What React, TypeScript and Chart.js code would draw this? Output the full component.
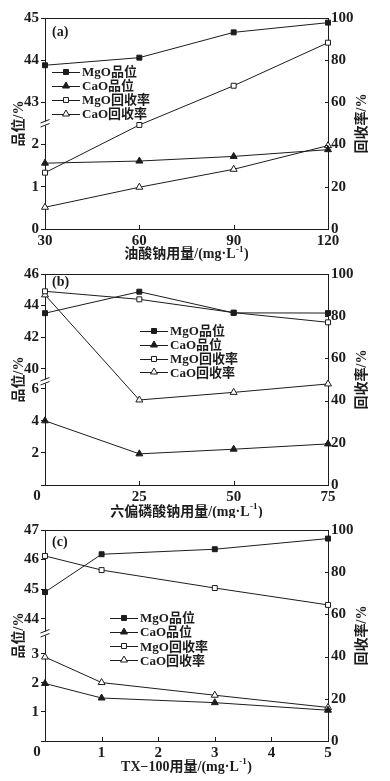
import React, { useEffect, useRef } from 'react';
import { Chart, registerables } from 'chart.js';

Chart.register(...registerables);

// ---------- data ----------
const SERIES_NAMES = ['MgO品位', 'CaO品位', 'MgO回收率', 'CaO回收率'];

// (a) 油酸钠用量
const A_X = [30, 60, 90, 120];
const A_MGO_GRADE = [43.88, 44.06, 44.66, 44.89];
const A_CAO_GRADE = [1.56, 1.61, 1.72, 1.88];
const A_MGO_REC = [26.7, 49.3, 67.9, 88.3];
const A_CAO_REC = [10.3, 19.8, 28.3, 39.5];

// (b) 六偏磷酸钠用量
const B_X = [0, 25, 50, 75];
const B_MGO_GRADE = [43.52, 44.88, 43.54, 43.53];
const B_CAO_GRADE = [4.0, 1.94, 2.23, 2.56];
const B_MGO_REC = [91.8, 88.0, 81.7, 77.1];
const B_CAO_REC = [90.1, 40.3, 43.9, 47.9];

// (c) TX-100用量
const C_X = [0, 1, 3, 5];
const C_MGO_GRADE = [44.9, 46.18, 46.35, 46.71];
const C_CAO_GRADE = [1.98, 1.48, 1.32, 1.06];
const C_MGO_REC = [87.7, 81.0, 72.5, 64.5];
const C_CAO_REC = [39.8, 27.7, 21.7, 15.9];

const LEFT_TITLE = '品位/%';
const RIGHT_TITLE = '回收率/%';

// ---------- style ----------
const FONT = "'Liberation Serif', 'Noto Sans CJK SC', serif";
const INK = '#1c1c1c';

type PanelCfg = {
  key: string;
  label: string;
  xTitle: [string, string];
  x: number[];
  series: number[][];
  xMin: number; xMax: number; xStep: number;
  up: [number, number, number];
  low: [number, number, number];
  upW: number; lowW: number;
  hideLowZero: boolean;
  cornerZero: boolean;
  top: number; height: number;
  padTop: number; xHeight: number;
  legend: { x: number; y: number; dy: number };
  labelPos: { x: number; y: number };
  titleOffset: number;
};

const PANELS: PanelCfg[] = [
  {
    key: 'a', label: '(a)', xTitle: ['油酸钠用量/(mg·L', ')'],
    x: A_X, series: [A_MGO_GRADE, A_CAO_GRADE, A_MGO_REC, A_CAO_REC],
    xMin: 30, xMax: 120, xStep: 30,
    up: [42.5, 45, 1], low: [0, 2.5, 1], upW: 105.5, lowW: 105.5,
    hideLowZero: false, cornerZero: false,
    top: 0, height: 264, padTop: 18, xHeight: 35,
    legend: { x: 52, y: 72, dy: 14 }, labelPos: { x: 52, y: 32 }, titleOffset: 25.5,
  },
  {
    key: 'b', label: '(b)', xTitle: ['六偏磷酸钠用量/(mg·L', ')'],
    x: B_X, series: [B_MGO_GRADE, B_CAO_GRADE, B_MGO_REC, B_CAO_REC],
    xMin: 0, xMax: 75, xStep: 25,
    up: [39.2, 46, 2], low: [0, 6.45, 2], upW: 108, lowW: 104,
    hideLowZero: true, cornerZero: true,
    top: 262, height: 256, padTop: 11, xHeight: 33,
    legend: { x: 140, y: 69, dy: 13.8 }, labelPos: { x: 52, y: 20 }, titleOffset: 27,
  },
  {
    key: 'c', label: '(c)', xTitle: ['TX−100用量/(mg·L', ')'],
    x: C_X, series: [C_MGO_GRADE, C_CAO_GRADE, C_MGO_REC, C_CAO_REC],
    xMin: 0, xMax: 5, xStep: 1,
    up: [43.5, 47, 1], low: [0, 3.7, 1], upW: 104, lowW: 108,
    hideLowZero: true, cornerZero: true,
    top: 518, height: 263, padTop: 11, xHeight: 40,
    legend: { x: 110, y: 100, dy: 14.1 }, labelPos: { x: 52, y: 24 }, titleOffset: 26,
  },
];

const MARKERS = [
  { style: 'rect', radius: 3.5, fill: INK, axis: 'yUp' },
  { style: 'triangle', radius: 4, fill: INK, axis: 'yLow' },
  { style: 'rect', radius: 3.5, fill: '#ffffff', axis: 'yR' },
  { style: 'triangle', radius: 4, fill: '#ffffff', axis: 'yR' },
];

function drawMarker(ctx: CanvasRenderingContext2D, style: string, r: number, fill: string, x: number, y: number) {
  ctx.beginPath();
  if (style === 'rect') {
    const s = Math.SQRT1_2 * r;
    ctx.rect(x - s, y - s, 2 * s, 2 * s);
  } else {
    const a = (2 * Math.PI) / 3;
    ctx.moveTo(x, y - r);
    ctx.lineTo(x + Math.sin(a) * r, y - Math.cos(a) * r);
    ctx.lineTo(x + Math.sin(2 * a) * r, y - Math.cos(2 * a) * r);
    ctx.closePath();
  }
  ctx.fillStyle = fill;
  ctx.fill();
  ctx.strokeStyle = INK;
  ctx.lineWidth = 1;
  ctx.stroke();
}

function overlayPlugin(p: PanelCfg) {
  return {
    id: 'overlay_' + p.key,
    afterDraw(chart: any) {
      const { ctx, chartArea: ca, scales } = chart;
      const h = (v: number) => Math.round(v) + 0.5;
      ctx.save();
      ctx.strokeStyle = INK;
      ctx.lineWidth = 1;
      // top frame
      ctx.beginPath();
      ctx.moveTo(ca.left, h(ca.top));
      ctx.lineTo(ca.right, h(ca.top));
      // inward ticks on x and right axes
      scales.x.ticks.forEach((t: any) => {
        const xx = h(scales.x.getPixelForValue(t.value));
        ctx.moveTo(xx, ca.bottom);
        ctx.lineTo(xx, ca.bottom - 4);
      });
      scales.yR.ticks.forEach((t: any) => {
        const yy = h(scales.yR.getPixelForValue(t.value));
        ctx.moveTo(ca.right, yy);
        ctx.lineTo(ca.right - 3, yy);
      });
      ctx.stroke();

      // axis break
      const by = scales.yUp.bottom;
      const bx = ca.left;
      ctx.fillStyle = '#ffffff';
      ctx.fillRect(bx - 2, by - 2, 4, 4);
      ctx.beginPath();
      ctx.moveTo(bx - 4.5, by - 0.5);
      ctx.lineTo(bx + 4.5, by - 4);
      ctx.moveTo(bx - 4.5, by + 3.5);
      ctx.lineTo(bx + 4.5, by);
      ctx.stroke();

      // axis titles
      ctx.fillStyle = INK;
      ctx.font = `bold 14px ${FONT}`;
      ctx.textAlign = 'center';
      ctx.textBaseline = 'middle';
      const midY = (ca.top + ca.bottom) / 2;
      ctx.save();
      ctx.translate(19, midY);
      ctx.rotate(-Math.PI / 2);
      ctx.fillText(LEFT_TITLE, 0, 0);
      ctx.restore();
      ctx.save();
      ctx.translate(362, midY);
      ctx.rotate(-Math.PI / 2);
      ctx.fillText(RIGHT_TITLE, 0, 0);
      ctx.restore();

      // x title with superscript
      const [t1, t2] = p.xTitle;
      const sup = '-1';
      ctx.font = `bold 14px ${FONT}`;
      const w1 = ctx.measureText(t1).width;
      const w3 = ctx.measureText(t2).width;
      ctx.font = `bold 9px ${FONT}`;
      const w2 = ctx.measureText(sup).width + 1;
      const total = w1 + w2 + w3;
      let sx = (ca.left + ca.right) / 2 - total / 2;
      const ty = ca.bottom + p.titleOffset;
      ctx.textAlign = 'left';
      ctx.font = `bold 14px ${FONT}`;
      ctx.fillText(t1, sx, ty);
      sx += w1;
      ctx.font = `bold 9px ${FONT}`;
      ctx.fillText(sup, sx + 0.5, ty - 5);
      sx += w2;
      ctx.font = `bold 14px ${FONT}`;
      ctx.fillText(t2, sx, ty);

      // corner zero
      if (p.cornerZero) {
        ctx.font = `bold 15px ${FONT}`;
        ctx.textAlign = 'center';
        ctx.fillText('0', 37, ca.bottom + 11);
      }

      // panel label
      ctx.font = `bold 14px ${FONT}`;
      ctx.textAlign = 'left';
      ctx.fillText(p.label, p.labelPos.x, p.labelPos.y);

      // legend
      ctx.font = `bold 13px ${FONT}`;
      ctx.textAlign = 'left';
      ctx.textBaseline = 'middle';
      SERIES_NAMES.forEach((name, i) => {
        const y = p.legend.y + i * p.legend.dy;
        const lx = p.legend.x;
        ctx.strokeStyle = INK;
        ctx.lineWidth = 1;
        ctx.beginPath();
        ctx.moveTo(lx, h(y));
        ctx.lineTo(lx + 28, h(y));
        ctx.stroke();
        const m = MARKERS[i];
        drawMarker(ctx, m.style, m.radius, m.fill, lx + 14, h(y) - 0.5);
        ctx.fillStyle = INK;
        ctx.fillText(name, lx + 30, y + 1);
      });
      ctx.restore();
    },
  };
}

function Panel({ p }: { p: PanelCfg }) {
  const ref = useRef<HTMLCanvasElement | null>(null);
  useEffect(() => {
    if (!ref.current) return;
    const tickFont = { family: FONT, size: 15, weight: 'bold' as const };
    const datasets = p.series.map((vals, i) => {
      const m = MARKERS[i];
      return {
        label: SERIES_NAMES[i],
        data: vals.map((v, j) => ({ x: p.x[j], y: v })),
        yAxisID: m.axis,
        borderColor: INK,
        borderWidth: 1,
        backgroundColor: m.fill,
        pointStyle: m.style,
        pointRadius: m.radius,
        pointBackgroundColor: m.fill,
        pointBorderColor: INK,
        pointBorderWidth: 1,
        tension: 0,
        clip: false,
      };
    });
    const leftAxis = (range: [number, number, number], weight: number, hideZero: boolean) => ({
      type: 'linear',
      position: 'left',
      stack: 'left',
      stackWeight: weight,
      min: range[0],
      max: range[1],
      ticks: {
        stepSize: range[2],
        includeBounds: false,
        autoSkip: false,
        font: tickFont,
        color: INK,
        padding: 2,
        callback: (v: number) => (hideZero && v === 0 ? '' : String(v)),
      },
      grid: { display: true, drawOnChartArea: false, drawTicks: true, tickLength: 4, color: INK },
      border: { display: true, color: INK, width: 1 },
      afterFit: (s: any) => { s.width = 45; },
    });
    const chart = new Chart(ref.current, {
      type: 'line',
      data: { datasets: datasets as any },
      options: {
        responsive: false,
        animation: false,
        events: [],
        layout: { padding: { top: p.padTop, left: 0, right: 0, bottom: 0 } },
        plugins: { legend: { display: false }, tooltip: { enabled: false } },
        scales: {
          x: {
            type: 'linear',
            min: p.xMin,
            max: p.xMax,
            ticks: {
              stepSize: p.xStep,
              autoSkip: false,
              font: tickFont,
              color: INK,
              padding: 3,
              maxRotation: 0,
              callback: (v: number) => (p.cornerZero && v === 0 ? '' : String(v)),
            },
            grid: { display: false, drawTicks: false },
            border: { display: true, color: INK, width: 1 },
            afterFit: (s: any) => { s.height = p.xHeight; },
          },
          yLow: leftAxis(p.low, p.lowW, p.hideLowZero),
          yUp: leftAxis(p.up, p.upW, false),
          yR: {
            type: 'linear',
            position: 'right',
            min: 0,
            max: 100,
            ticks: { stepSize: 20, autoSkip: false, font: tickFont, color: INK, padding: 3 },
            grid: { display: false, drawTicks: false },
            border: { display: true, color: INK, width: 1 },
            afterFit: (s: any) => { s.width = 62; },
          },
        } as any,
      },
      plugins: [overlayPlugin(p)],
    });
    return () => chart.destroy();
  }, [p]);
  return (
    <div style={{ position: 'absolute', left: 0, top: p.top, width: 390, height: p.height }}>
      <canvas ref={ref} width={390} height={p.height} style={{ display: 'block' }} />
    </div>
  );
}

export default function App() {
  return (
    <div style={{ position: 'absolute', left: 0, top: 0, width: 390, height: 781, background: '#ffffff' }}>
      {PANELS.map((p) => (
        <Panel key={p.key} p={p} />
      ))}
    </div>
  );
}
